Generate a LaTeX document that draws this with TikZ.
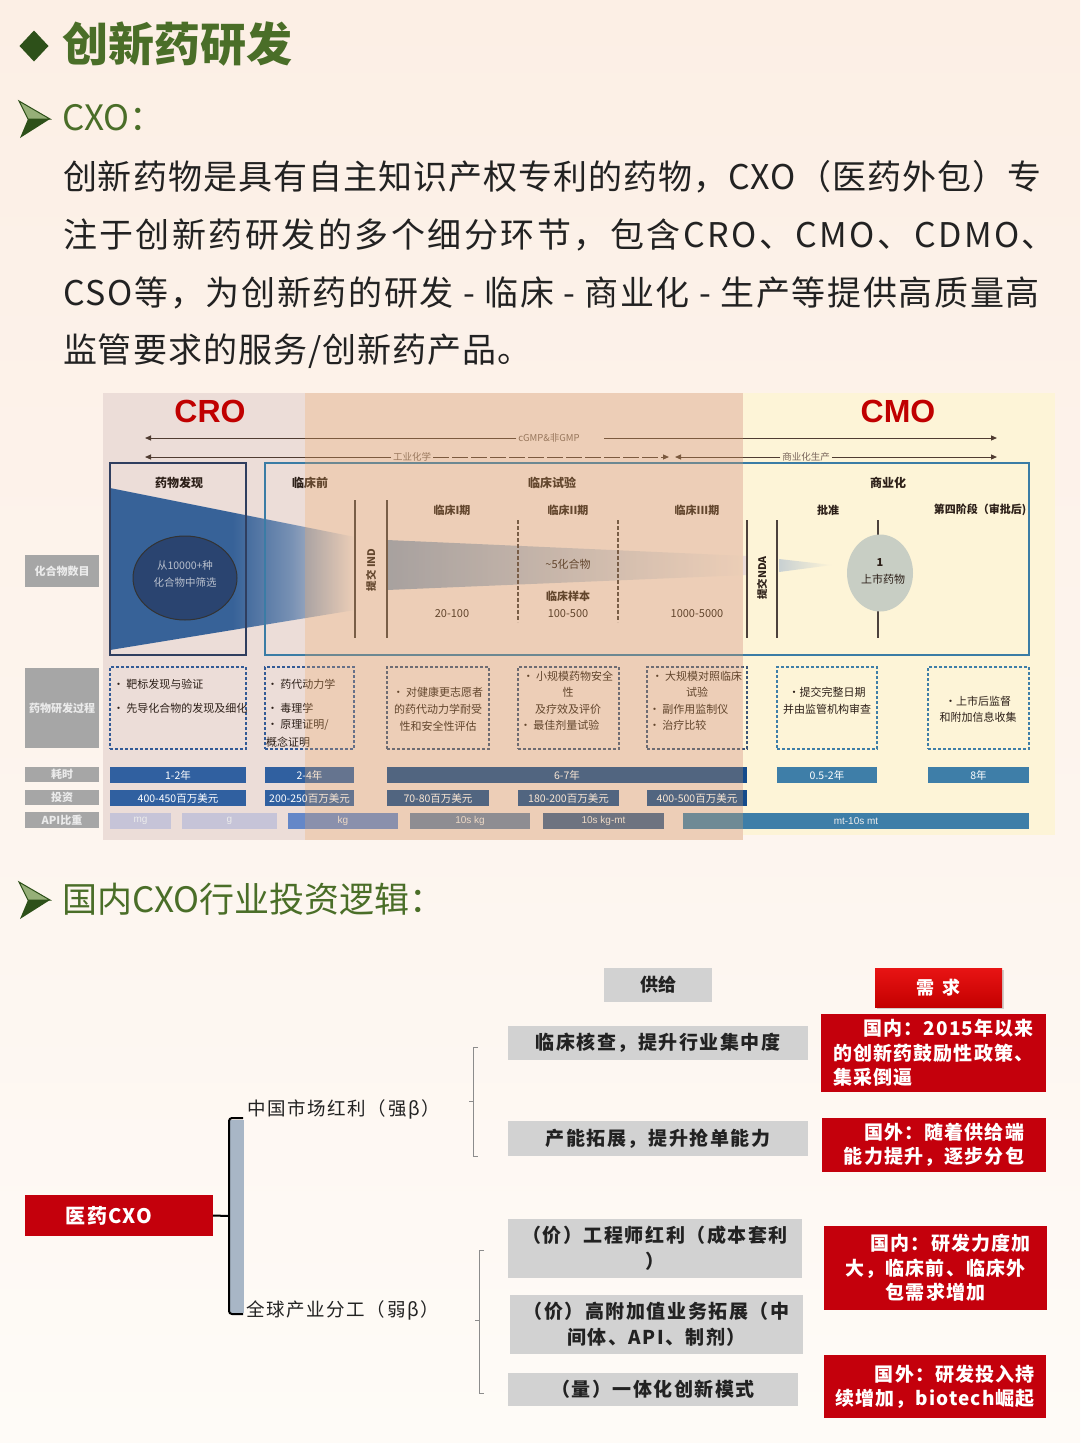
\documentclass[tikz,border=0pt]{standalone}
\usepackage{fontspec}
\setmainfont{Noto Sans CJK SC}
\newfontfamily\arialf{Liberation Sans}
\usetikzlibrary{arrows.meta,shapes.geometric,shadows}
\definecolor{pagetop}{RGB}{252,239,229}
\definecolor{pagemid}{RGB}{253,244,237}
\definecolor{pagebot}{RGB}{254,251,247}
\definecolor{hgreen}{RGB}{74,110,40}
\definecolor{dgreen}{RGB}{45,80,25}
\definecolor{lgreen}{RGB}{150,175,120}
\definecolor{ink}{RGB}{34,34,34}
\definecolor{cink}{RGB}{45,32,25}
\definecolor{pinkbg}{RGB}{236,221,216}
\definecolor{peachov}{RGB}{240,170,100}
\definecolor{yellowbg}{RGB}{253,244,215}
\definecolor{navyb}{RGB}{47,62,95}
\definecolor{steelb}{RGB}{58,124,165}
\definecolor{fblue}{RGB}{55,98,152}
\definecolor{fmid}{RGB}{120,145,180}
\definecolor{gblue}{RGB}{140,158,182}
\definecolor{lgb}{RGB}{200,208,210}
\definecolor{ellb}{RGB}{42,68,112}
\definecolor{elltxt}{RGB}{185,192,205}
\definecolor{ellg}{RGB}{200,206,196}
\definecolor{barA}{RGB}{48,96,160}
\definecolor{barM}{RGB}{20,75,140}
\definecolor{barC}{RGB}{62,126,168}
\definecolor{apiL}{RGB}{198,196,216}
\definecolor{apiK}{RGB}{100,135,200}
\definecolor{apiT}{RGB}{105,130,165}
\definecolor{apiU}{RGB}{60,95,140}
\definecolor{dboxc}{RGB}{50,90,150}
\definecolor{dboxm}{RGB}{60,85,120}
\definecolor{dboxc2}{RGB}{62,126,168}
\definecolor{labg}{RGB}{166,166,166}
\definecolor{arrc}{RGB}{80,60,50}
\definecolor{arrt}{RGB}{120,100,90}
\definecolor{critred}{RGB}{192,0,0}
\definecolor{boxred}{RGB}{196,0,12}
\definecolor{redtop}{RGB}{232,20,20}
\definecolor{redbot}{RGB}{196,0,0}
\definecolor{gboxc}{RGB}{210,210,210}
\definecolor{brgray}{RGB}{168,182,198}
\definecolor{thing}{RGB}{140,140,140}
\pgfdeclarehorizontalshading{funA}{100bp}{color(0bp)=(fblue); color(50bp)=(fblue); color(62bp)=(fmid); color(75bp)=(pinkbg); color(100bp)=(pinkbg)}
\pgfdeclarehorizontalshading{funB}{100bp}{color(0bp)=(gblue); color(25bp)=(gblue); color(75bp)=(pinkbg); color(100bp)=(pinkbg)}
\pgfdeclarehorizontalshading{funC}{100bp}{color(0bp)=(lgb); color(25bp)=(lgb); color(75bp)=(yellowbg); color(100bp)=(yellowbg)}
\newcommand\fsz[2]{\fontsize{#1}{#2}\selectfont}
\newcommand\mkbox[7]{\node[#6,minimum width={(#4-#2)*1pt},minimum height={(#5-#3)*1pt}] (#1) at ({(#2+#4)/2},{(#3+#5)/2}) {#7};}
\begin{document}
\begin{tikzpicture}[x=1pt,y=-1pt,
  every node/.style={inner sep=0pt,outer sep=0pt},
  body/.style={anchor=west,text=ink,font=\fsz{34}{40}},
  lab/.style={fill=labg,text=white!92!black,font=\fsz{11}{13}\bfseries},
  hd/.style={text=cink,font=\fsz{12}{14}\bfseries},
  subh/.style={text=cink,font=\fsz{11}{13}\bfseries},
  num/.style={text=cink,font=\fsz{11}{13}},
  bt/.style={text=cink,font=\fsz{11}{13}},
  barn/.style={text=white,font=\fsz{10.5}{12}},
  apin/.style={text=white!85!gray,font=\arialf\fsz{10}{12}},
  dbox/.style={draw=dboxc,line width=1.2pt,dash pattern=on 3pt off 2pt},
  vl/.style={draw=cink!85,line width=1.2pt},
  arr/.style={draw=arrc,line width=1pt,-{Triangle[length=6pt,width=5pt]}},
  arrlab/.style={text=arrt,font=\fsz{9.5}{11},inner sep=2pt},
  gbox/.style={fill=gboxc,text=ink,font=\fsz{19}{26}\bfseries\addfontfeature{LetterSpace=8},align=center},
  rbx/.style={fill=boxred,text=white,font=\fsz{19}{24.5}\bfseries\addfontfeature{LetterSpace=6}},
  heading/.style={anchor=west,text=hgreen,font=\fsz{35}{40}}
]
\useasboundingbox (0,0) rectangle (1080,1443);
\shade[top color=pagetop,bottom color=pagebot,middle color=pagemid] (0,0) rectangle (1080,1443);

% ---------- header ----------
\node[diamond,fill=dgreen,minimum width=29pt,minimum height=31pt] (dia) at (34,46) {};
\node[anchor=west,text=hgreen,font=\fsz{46}{50}\bfseries] (title) at (62,44) {创新药研发};
\fill[lgreen,draw=dgreen,line width=1pt] (19,101) -- (50,119) -- (28,119) -- cycle;
\fill[dgreen] (28,119) -- (50,119) -- (20,138) -- cycle;
\node[heading] (cxo) at (62,118) {CXO：};
\node[body,font=\fsz{34}{40}\addfontfeature{LetterSpace=3}] (p1) at (63,177) {创新药物是具有自主知识产权专利的药物，CXO（医药外包）专};
\node[body,font=\fsz{34}{40}\addfontfeature{LetterSpace=7.3}] (p2) at (63,235) {注于创新药研发的多个细分环节，包含CRO、CMO、CDMO、};
\node[body,font=\fsz{34}{40}\addfontfeature{LetterSpace=5}] (p3) at (63,293) {CSO等，为创新药的研发 - 临床 - 商业化 - 生产等提供高质量高};
\node[body,font=\fsz{34}{40}\addfontfeature{LetterSpace=3}] (p4) at (63,351) {监管要求的服务/创新药产品。};

% ---------- chart backgrounds ----------
\fill[pinkbg] (103,393) rectangle (743,840);
\fill[yellowbg] (743,393) rectangle (1055,835);
\node[text=critred,font=\arialf\fsz{32}{34}\bfseries] (cro) at (210,411) {CRO};
\node[text=critred,font=\arialf\fsz{32}{34}\bfseries] (cmo) at (898,411) {CMO};

% arrows
\coordinate (a1l) at (145,438);
\coordinate (a1m) at (604,438);
\coordinate (a1r) at (997,438);
\node[arrlab] (a1t) at (549,438) {cGMP\&非GMP};
\draw[arr] (a1t.west) -- (a1l);
\draw[arr] (a1m) -- (a1r);
\coordinate (a2l) at (145,457);
\coordinate (a2m) at (669,457);
\coordinate (a2n) at (675,457);
\coordinate (a2r) at (997,457);
\node[arrlab] (a2t) at (412,457) {工业化学};
\node[arrlab] (a3t) at (806,457) {商业化生产};
\draw[arr] (a2t.west) -- (a2l);
\draw[arr,dash pattern=on 16pt off 3pt] (a2t.east) -- (a2m);
\draw[arr] (a3t.west) -- (a2n);
\draw[arr] (a3t.east) -- (a2r);

% funnels
\shade[shading=funA] (110,488) -- (355,537) -- (355,610) -- (110,650) -- cycle;
\shade[shading=funB] (387,540) -- (747,556) -- (747,575) -- (387,590) -- cycle;
\shade[shading=funC] (779,559) -- (832,565) -- (779,572) -- cycle;

% main boxes
\mkbox{bdisc}{110}{463}{246}{655}{draw=navyb,line width=2pt}{}
\mkbox{bmain}{265}{463}{1029}{655}{draw=steelb,line width=2pt}{}
\node[ellipse,fill=ellb,draw=black!80,line width=1pt,minimum width=104pt,minimum height=84pt] (ell) at (185,578) {};
\node[text=elltxt,font=\fsz{10.5}{17},align=center] (ellt) at (185,574) {从10000+种\\化合物中筛选};

% vertical lines
\draw[vl] (355,500) -- (355,638);
\draw[vl] (387,500) -- (387,638);
\draw[vl,dash pattern=on 4pt off 2pt,line width=1.6pt] (518,520) -- (518,622);
\draw[vl,dash pattern=on 4pt off 2pt,line width=1.6pt] (618,520) -- (618,622);
\draw[vl] (747,520) -- (747,638);
\draw[vl] (777,520) -- (777,638);
\draw[vl] (878,520) -- (878,638);
\node[ellipse,fill=ellg,minimum width=66pt,minimum height=77pt] (ell2) at (880,573) {};
\node[text=cink,font=\fsz{11}{13}\bfseries] (one) at (880,562) {1};
\node[text=cink,font=\fsz{11}{13}] (mkt) at (883,579) {上市药物};
\node[rotate=90,text=cink,font=\fsz{10.5}{12}\bfseries] (ind) at (371,570) {提交 IND};
\node[rotate=90,text=cink,font=\fsz{10.5}{12}\bfseries] (nda) at (762,578) {提交NDA};

% headers
\node[hd] (h1) at (179,483) {药物发现};
\node[hd] (h2) at (310,483) {临床前};
\node[hd] (h3) at (552,483) {临床试验};
\node[hd] (h4) at (888,483) {商业化};
\node[subh] (s1) at (452,510) {临床I期};
\node[subh] (s2) at (568,510) {临床II期};
\node[subh] (s3) at (697,510) {临床III期};
\node[subh] (s4) at (828,510) {批准};
\node[subh] (s5) at (980,510) {第四阶段（审批后)};
\node[num] (n1) at (452,614) {20-100};
\node[num] (n2) at (568,564) {\textasciitilde 5化合物};
\node[num,font=\fsz{11}{13}\bfseries] (n3) at (568,596) {临床样本};
\node[num] (n4) at (568,614) {100-500};
\node[num] (n5) at (697,614) {1000-5000};

% left labels
\mkbox{l1}{25}{555}{99}{587}{lab}{化合物数目}
\mkbox{l2}{25}{668}{99}{748}{lab}{药物研发过程}
\mkbox{l3}{25}{767}{99}{782}{lab}{耗时}
\mkbox{l4}{25}{790}{99}{805}{lab}{投资}
\mkbox{l5}{25}{812}{99}{828}{lab}{API比重}

% dashed boxes
\mkbox{x1}{110}{667}{246}{749}{dbox}{}
\mkbox{x2}{265}{667}{354}{749}{dbox}{}
\mkbox{x3}{387}{667}{489}{749}{dbox,draw=dboxm}{}
\mkbox{x4}{518}{667}{619}{749}{dbox,draw=dboxm}{}
\mkbox{x5}{647}{667}{747}{749}{dbox,draw=dboxm}{}
\mkbox{x6}{777}{667}{877}{749}{dbox,draw=dboxc2}{}
\mkbox{x7}{928}{667}{1029}{749}{dbox,draw=dboxc2}{}
\node[bt,anchor=west] (x1a) at (113,684) {• 靶标发现与验证};
\node[bt,anchor=west] (x1b) at (113,708) {• 先导化合物的发现及细化};
\node[bt,anchor=west] (x2a) at (267,684) {• 药代动力学};
\node[bt,anchor=west] (x2b) at (267,708) {• 毒理学};
\node[bt,anchor=west] (x2c) at (267,725) {• 原理证明/};
\node[bt,anchor=west] (x2d) at (266,742) {概念证明};
\node[bt] (x3a) at (438,692) {• 对健康更志愿者};
\node[bt] (x3b) at (438,709) {的药代动力学耐受};
\node[bt] (x3c) at (438,726) {性和安全性评估};
\node[bt] (x4a) at (568,676) {• 小规模药物安全};
\node[bt] (x4b) at (568,692) {性};
\node[bt] (x4c) at (568,709) {及疗效及评价};
\node[bt,anchor=west] (x4d) at (520,725) {• 最佳剂量试验};
\node[bt] (x5a) at (697,676) {• 大规模对照临床};
\node[bt] (x5b) at (697,692) {试验};
\node[bt,anchor=west] (x5c) at (649,709) {• 副作用监制仪};
\node[bt,anchor=west] (x5d) at (649,725) {• 治疗比较};
\node[bt] (x6a) at (827,692) {•提交完整日期};
\node[bt] (x6b) at (827,709) {并由监管机构审查};
\node[bt] (x7a) at (978,701) {•上市后监督};
\node[bt] (x7b) at (978,717) {和附加信息收集};

% bars
\mkbox{b1}{110}{767}{246}{783}{barn,fill=barA}{1-2年}
\mkbox{b2}{265}{767}{354}{783}{barn,fill=barA}{2-4年}
\mkbox{b3}{387}{767}{747}{783}{barn,fill=barM}{6-7年}
\mkbox{b4}{777}{767}{877}{783}{barn,fill=barC}{0.5-2年}
\mkbox{b5}{928}{767}{1029}{783}{barn,fill=barC}{8年}
\mkbox{c1}{110}{790}{246}{806}{barn,fill=barA}{400-450百万美元}
\mkbox{c2}{265}{790}{354}{806}{barn,fill=barA}{200-250百万美元}
\mkbox{c3}{387}{790}{489}{806}{barn,fill=barM}{70-80百万美元}
\mkbox{c4}{518}{790}{619}{806}{barn,fill=barM}{180-200百万美元}
\mkbox{c5}{647}{790}{747}{806}{barn,fill=barM}{400-500百万美元}
\mkbox{d1}{110}{813}{171}{829}{apin,fill=apiL}{mg}
\mkbox{d2}{182}{813}{277}{829}{apin,fill=apiL}{g}
\mkbox{d3}{288}{813}{398}{829}{apin,fill=apiK}{kg}
\mkbox{d4}{410}{813}{530}{829}{apin,fill=apiT}{10s kg}
\mkbox{d5}{543}{813}{664}{829}{apin,fill=apiU}{10s kg-mt}
\mkbox{d6}{683}{813}{1029}{829}{apin,fill=barC}{mt-10s mt}

% peach overlay
\fill[peachov,opacity=0.28] (305,393) rectangle (743,840);

% ---------- second heading ----------
\fill[lgreen,draw=dgreen,line width=1pt] (19,882) -- (50,900) -- (28,900) -- cycle;
\fill[dgreen] (28,900) -- (50,900) -- (20,919) -- cycle;
\node[heading] (inv) at (62,899) {国内CXO行业投资逻辑：};

% ---------- bottom diagram ----------
\mkbox{sup}{604}{968}{712}{1002}{gbox,font=\fsz{18}{20}\bfseries}{供给}
\mkbox{dem}{875}{968}{1002}{1007}{top color=redtop,bottom color=redbot,text=white,font=\fsz{18}{20}\bfseries,drop shadow={opacity=0.35,shadow xshift=2pt,shadow yshift=-2pt}}{需\hspace{0.4em}求}
\mkbox{g1}{508}{1026}{808}{1060}{gbox}{临床核查，提升行业集中度}
\mkbox{g2}{508}{1121}{808}{1156}{gbox}{产能拓展，提升抢单能力}
\mkbox{g3}{508}{1219}{802}{1278}{gbox}{（价）工程师红利（成本套利\\）}
\mkbox{g4}{510}{1295}{803}{1354}{gbox}{（价）高附加值业务拓展（中\\间体、API、制剂）}
\mkbox{g5}{508}{1373}{798}{1406}{gbox}{（量）一体化创新模式}
\mkbox{r1}{821}{1014}{1046}{1092}{rbx,align=left}{\hspace*{1.6em}国内：2015年以来\\的创新药鼓励性政策、\\集采倒逼}
\mkbox{r2}{822}{1118}{1046}{1172}{rbx,align=right}{国外：随着供给端\\能力提升，逐步分包}
\mkbox{r3}{824}{1226}{1047}{1310}{rbx,align=center}{\hspace*{1.6em}国内：研发力度加\\大，临床前、临床外\\包需求增加}
\mkbox{r4}{824}{1355}{1046}{1418}{rbx,align=right}{国外：研发投入持\\续增加，biotech崛起}

\mkbox{root}{25}{1195}{213}{1236}{fill=boxred,text=white,font=\fsz{20}{22}\bfseries\addfontfeature{LetterSpace=6}}{医药CXO\hspace*{20pt}}
\fill[brgray] (230,1120) rectangle (244,1313);
\coordinate (brm) at (229,1216);
\draw[line width=2pt,rounded corners=3pt] (243,1118) -- (229,1118) -- (229,1314) -- (243,1314);
\draw[line width=2pt] (root.east) -- (brm);
\node[anchor=west,text=ink,font=\fsz{18.5}{22}\addfontfeature{LetterSpace=9}] (m1) at (247,1109) {中国市场红利（强β）};
\node[anchor=west,text=ink,font=\fsz{18.5}{22}\addfontfeature{LetterSpace=9}] (m2) at (246,1310) {全球产业分工（弱β）};
\draw[thing,line width=1pt] (478,1047) -- (473,1047) -- (473,1156) -- (478,1156);
\draw[thing,line width=1pt] (473,1101) -- (469,1101);
\draw[thing,line width=1pt] (484,1250) -- (479,1250) -- (479,1393) -- (484,1393);
\draw[thing,line width=1pt] (479,1320) -- (475,1320);
\end{tikzpicture}
\end{document}
